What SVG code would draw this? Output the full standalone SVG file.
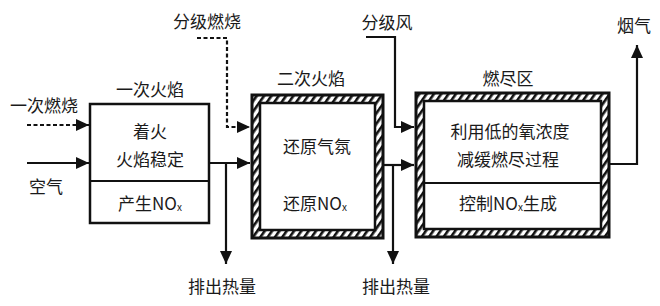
<svg xmlns="http://www.w3.org/2000/svg" width="660" height="306" viewBox="0 0 660 306">
<style>
text{font-family:"Noto Sans CJK SC","Noto Sans",sans-serif;font-size:17px;fill:#1a1a1a;text-anchor:middle;dominant-baseline:central}
.ln{fill:none;stroke:#111;stroke-width:2.2}
.ds{stroke-dasharray:4 2.5}
.box{fill:#fff;stroke:#111;stroke-width:2.5}
.hatch{fill:url(#hp);stroke:#111;stroke-width:3}
.sub{font-size:10px}
</style>
<defs>
<pattern id="hp" width="6" height="6" patternUnits="userSpaceOnUse" patternTransform="rotate(35)">
<rect width="6" height="6" fill="#fff"/>
<rect width="2.6" height="6" fill="#111"/>
</pattern>
<marker id="ah" markerUnits="userSpaceOnUse" markerWidth="14" markerHeight="12" refX="13" refY="6" orient="auto">
<path d="M0,0 L13,6 L0,12 z" fill="#111"/>
</marker>
</defs>
<g id="connectors">
<path class="ln ds" d="M27,125 H89" marker-end="url(#ah)"/>
<path class="ln" d="M27,163 H89" marker-end="url(#ah)"/>
<path class="ln ds" d="M197,38 H227 V127 H250" marker-end="url(#ah)"/>
<path class="ln" d="M210,163 H250" marker-end="url(#ah)"/>
<path class="ln" d="M226,163 V264" marker-end="url(#ah)"/>
<path class="ln" d="M366,37 H395 V127 H414" marker-end="url(#ah)"/>
<path class="ln" d="M384,165 H414" marker-end="url(#ah)"/>
<path class="ln" d="M393,165 V264" marker-end="url(#ah)"/>
<path class="ln" d="M610,164 H637 V45" marker-end="url(#ah)"/>
</g>
<g id="labels">
<text x="44" y="104">一次燃烧</text>
<text x="46" y="185">空气</text>
<text x="207" y="20">分级燃烧</text>
<text x="387" y="21">分级风</text>
<text x="634" y="24">烟气</text>
<text x="222" y="285">排出热量</text>
<text x="396" y="285">排出热量</text>
</g>
<g id="primary-flame">
<text x="150" y="88">一次火焰</text>
<rect class="box" x="90" y="104" width="119" height="119"/>
<line class="ln" x1="90" y1="181" x2="209" y2="181" stroke-width="2.5"/>
<text x="150" y="130">着火</text>
<text x="150" y="158">火焰稳定</text>
<text x="150" y="202">产生NO<tspan class="sub" dy="4">x</tspan></text>
</g>
<g id="secondary-flame">
<text x="311" y="77">二次火焰</text>
<rect class="hatch" x="252" y="95" width="131" height="143"/>
<rect class="box" x="260" y="103" width="115" height="127" stroke-width="2"/>
<text x="317" y="145">还原气氛</text>
<text x="315" y="202">还原NO<tspan class="sub" dy="4">x</tspan></text>
</g>
<g id="burnout-zone">
<text x="508" y="77">燃尽区</text>
<rect class="hatch" x="416" y="93" width="193" height="144"/>
<rect class="box" x="424" y="101" width="177" height="128" stroke-width="2"/>
<line class="ln" x1="424" y1="183" x2="601" y2="183" stroke-width="2.5"/>
<text x="510" y="130">利用低的氧浓度</text>
<text x="508" y="158">减缓燃尽过程</text>
<text x="508" y="202">控制NO<tspan class="sub" dy="4">x</tspan><tspan dy="-4">生成</tspan></text>
</g>
</svg>
